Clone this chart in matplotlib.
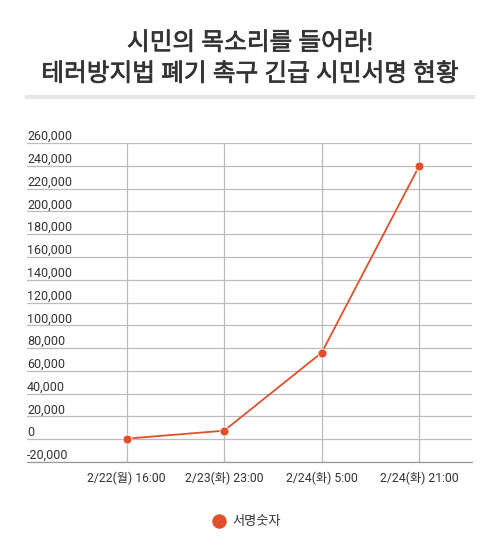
import numpy as np
import matplotlib.pyplot as plt
import matplotlib.transforms as mtransforms
import matplotlib.patheffects as pe

plt.rcParams['font.family'] = ['Roboto', 'Noto Sans CJK KR', 'DejaVu Sans']

title_lines = ["시민의 목소리를 들어라!", "테러방지법 폐기 촉구 긴급 시민서명 현황"]
times = ["2/22(월) 16:00", "2/23(화) 23:00", "2/24(화) 5:00", "2/24(화) 21:00"]
signatures = [500, 7500, 76000, 240000]
series_name = "서명숫자"
yticks = np.arange(-20000, 260001, 20000)

line_color = "#e0502a"
grid_color = "#bbbbbb"
text_color = "#333333"

fig = plt.figure(figsize=(5.0, 5.58), dpi=100)
ax = fig.add_axes([0.054, 0.172, 0.89, 0.5717])

x = np.arange(len(times))
ax.plot(x, signatures, color=line_color, lw=1.3, marker="o", markersize=6.5,
        markeredgecolor="white", markeredgewidth=0.6, zorder=3, label=series_name)

ax.set_xlim(-1.02, 3.54)
ax.set_ylim(yticks[0], yticks[-1])
ax.set_yticks(yticks)
ax.set_xticks(x)
ax.set_xticklabels(times, fontsize=8.8, color=text_color)
ax.tick_params(axis="x", length=0, pad=7)
ax.tick_params(axis="y", length=0, labelleft=False)
ax.grid(True, color=grid_color, lw=0.9)
for s in ["top", "right", "left"]:
    ax.spines[s].set_visible(False)
ax.spines["bottom"].set_color("#999999")
ax.spines["bottom"].set_linewidth(0.9)

# y labels sit just above their gridline, left aligned
trans = mtransforms.blended_transform_factory(ax.transAxes, ax.transData)
for v in yticks:
    ax.text(0.0, v, format(v, ","), transform=trans, ha="left", va="bottom",
            fontsize=9, color=text_color)

# a thin stroke gives the title a medium weight
stroke = [pe.withStroke(linewidth=0.5, foreground=text_color)]
fig.text(0.5, 1 - 43 / 558, title_lines[0], ha="center", va="center",
         fontsize=17.8, color=text_color, path_effects=stroke)
fig.text(0.5, 1 - 74 / 558, title_lines[1], ha="center", va="center",
         fontsize=17.8, color=text_color, path_effects=stroke)
fig.add_artist(plt.Line2D([0.054, 0.946], [1 - 97 / 558] * 2, color="#e6e6e6", lw=3))

fig.legend(loc="center", bbox_to_anchor=(0.5, 1 - 522 / 558), frameon=False,
           fontsize=9.5, handlelength=0, handletextpad=1.0, markerscale=1.6,
           labelcolor=text_color)
leg = fig.legends[0]
for h in leg.legend_handles:
    h.set_linestyle("none")
    h.set_markeredgewidth(0)

fig.savefig("out.png", dpi=100, facecolor="white")
